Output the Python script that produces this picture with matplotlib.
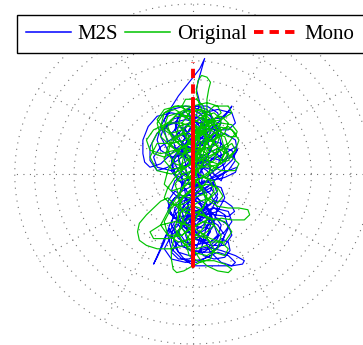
import numpy as np
import matplotlib.pyplot as plt

plt.rcParams['font.family'] = ['Liberation Serif', 'DejaVu Serif']

# side (x) / mid (y) amplitudes, percent of full scale
m2s_x = [2, 6, 12, 16, 14, 8, 0, -6, -10, -8, -2, 6, 12, 18, 21, 22, 20, 16, 8, -2,
         -12, -20, -25, -28, -28, -27, -24, -18, -12, -6, -2, 2, 4, 2, 4, 6.7, 4, -2, -8, -14,
         -18, -20, -18, -12, -4, 4, 10, 14, 10, 4, -2, -6, -4, 2, 10, 18, 24, 25, 22, 16,
         8, 0, -8, -14, -16, -12, -4, 4, 10, 14, 16, 14, 8,
         2, -4, -10, -12, -8, 0, 8, 14, 20, 25, 24, 18, 10, 2, -6, -12, -14, -10, -2, 6,
         12, 18, 22, 23.5, 20, 12, 4, -4, -8, -6, 0, 6, 10, 8, 2, -4, -8, -6, 0, 6,
         8, 4, -2, -8, -10, -6, 2, 8,
         10, 8, 2, -4, -8, -12, -12, -8, -2, 6, 12, 16, 20, 21, 18, 12, 6, 4, 8, 16,
         24, 29, 28, 22, 14, 6, 1, -4, -8, -10, -13, -16, -19, -22, -20, -16, -13, -10, -6, -2,
         2, 4, 2, -2, -4, -2, 4, 10, 14, 12, 6, 0, -4, -6, -4, 0, 6, 10, 12, 14,
         10, 4, 0,
         -2, -4, -6, -10, -14, -18, -16, -10, -4, 0, 2, 6, 12, 18, 20, 16, 10, 4, 0, -2,
         2, 8, 12, 10, 4, -2, -8, -12, -10, -4, 2, 6, 4, -2, -6, -2, 4, 8, 6, 0,
         -4, -2, 4, 10, 12, 8, 2,
         4, 10, 14, 12, 6, 0, -4, -2, 4, 10, 16, 18, 14, 8, 2, -4, -10, -14, -12, -6,
         0, 6, 10, 8, 2, -4, -8, -6, 0, 8, 14, 18, 16, 10, 4, -2, -8, -12, -10, -4,
         2, 6, 4, -2, -8, -12, -8, 0, 8, 12, 10, 4, -2, -6, -10, -12, -8, -2, 4, 8,
         12, 16, 18, 16, 10, 4, -2, -8, -12, -10, -4, 2, 8, 12, 14, 10, 4, -2, -6, -4,
         2, 8, 14, 16, 12, 6, 0, -6, -12, -16, -14, -8, 0, 6, 8, 4, -2, -8, -10, -6,
         0, 6, 4, -2, -8, -12, -10, -4, 2, 6, 4, 0, -6, -8, -4, 2, 6, 4, 0,
         0, 8, 16, 22, 25, 24, 18, 10, 2, -6, -14, -20, -24, -24, -20, -12, -4, 4, 12, 20,
         24, 22, 14, 6, -2, -10, -18, -22, -20, -12, -2, 8, 16, 22, 24, 20, 12, 4, -4, -10,
         -12, -8, 0, 10, 18, 22, 20, 12, 4, -4, -12, -16, -12, -4, 6, 14, 20, 24, 22, 16,
         10, 6, 8, 14, 20, 22, 18, 10, 2,
         -4, -10, -14, -10, -2, 6, 12, 16, 14, 8, 0, -6, -8, -4, 4, 12, 18, 20, 16, 10,
         2, -6, -12, -14, -10, -2, 6, 10, 6, 0, -4, -2, 4, 10, 14, 10, 4]
m2s_y = [10, 16, 22, 30, 36, 40, 40, 36, 30, 24, 20, 22, 28, 34, 38, 40, 37, 33, 32, 34,
         36, 34, 28, 20, 12, 7, 4, 6, 12, 18, 26, 34, 42, 50, 58, 68, 62, 54, 46, 36,
         28, 20, 14, 10, 12, 16, 22, 28, 32, 30, 26, 18, 10, 6, 8, 12, 16, 14, 10, 8,
         10, 14, 20, 26, 32, 38, 40, 38, 34, 26, 18, 12, 6,
         2, 0, -4, -10, -14, -12, -8, -2, 2, 4, 1, -2, -4, -6, -10, -16, -22, -26, -24, -20,
         -16, -16, -19, -22, -25, -24, -22, -20, -14, -6, 0, 6, 14, 20, 22, 18, 10, 2, -4, -10,
         -18, -26, -30, -28, -22, -16, -14, -18,
         -26, -32, -36, -34, -30, -34, -40, -46, -48, -46, -42, -38, -40, -45, -49, -50, -48, -44, -43, -45,
         -48, -51, -53, -54, -54, -54, -54, -51, -46, -40, -32, -38, -46, -53, -49, -40, -30, -24, -20, -24,
         -30, -38, -44, -42, -36, -28, -22, -18, -12, -6, -4, -8, -14, -22, -30, -34, -30, -24, -30, -36,
         -40, -38, -32,
         -22, -12, -2, 6, 14, 22, 28, 30, 26, 18, 10, 4, 2, 6, 12, 18, 20, 24, 30, 36,
         40, 38, 32, 24, 18, 14, 12, 6, 0, -4, -2, 4, 12, 18, 24, 30, 32, 26, 18, 12,
         4, -6, -12, -10, -4, 2, 6,
         -6, -12, -20, -28, -32, -30, -24, -16, -10, -6, -8, -14, -22, -24, -20, -14, -10, -16, -24, -28,
         -26, -22, -30, -38, -42, -40, -34, -28, -24, -26, -30, -36, -42, -46, -46, -44, -42, -36, -30, -28,
         -34, -40, -46, -50, -50, -46, -40, -38, -36, -30, -22, -18, -12, -6, 0, 8, 14, 16, 12, 6,
         0, -4, 2, 10, 14, 18, 24, 28, 24, 16, 10, 6, 10, 18, 26, 30, 28, 22, 14, 6,
         0, -2, 4, 12, 20, 26, 32, 34, 32, 26, 18, 14, 16, 22, 30, 36, 38, 34, 26, 18,
         12, 6, -2, -6, -4, 2, 10, 12, 8, 0, -8, -14, -20, -26, -32, -30, -24, -16, -10,
         -10, -4, 2, 8, 14, 20, 24, 22, 16, 10, 4, 2, 8, 16, 24, 30, 32, 30, 26, 26,
         30, 36, 38, 36, 30, 22, 16, 10, 4, 2, 6, 12, 16, 14, 8, 2, -2, -6, -12, -20,
         -30, -38, -42, -40, -34, -28, -22, -20, -24, -30, -36, -44, -50, -52, -50, -46, -48, -52, -54, -52,
         -46, -38, -30, -26, -30, -36, -42, -42, -38,
         -32, -26, -20, -14, -14, -18, -24, -30, -38, -44, -46, -42, -34, -26, -22, -20, -24, -32, -40, -48,
         -52, -50, -44, -36, -28, -24, -28, -34, -40, -38, -30, -20, -12, -8, -14, -22, -28]

orig_x = [0, 6, 12, 16, 14, 8, 0, -8, -14, -20, -23, -22, -16, -8, 0, 6, 8, 8, 9, 10,
          8, 5, 3, 2, 4, 8, 14, 20, 24, 25, 22, 16, 8, 0, -8, -14, -16, -12, -4, 4,
          12, 18, 20, 16, 8, 0, -8, -14, -18, -16, -10, -2, 6, 12, 14, 10, 2, -6, -12, -14,
          -10, -2, 4, 8, 6, 0, -6, -10, -8, -2, 4, 10, 16, 22, 24, 20, 14, 8, 2, -4,
          -8, -6, 0, 6, 10,
          8, 2, -4, -10, -14, -16, -12, -6, 0, 6, 9.5, 14, 20, 26, 31, 32, 29, 22, 16, 12,
          6, 0, -8, -14, -18, -22, -26, -30, -31, -30, -26, -20, -12, -4, 2, 8, 12, 10, 4, -2,
          -6, -10, -12, -12, -11, -9, -5, 0, 6, 12, 18, 22, 20, 14, 8, 4, 0, -2, -6, -8,
          -8, -4, 2, 8, 14, 17, 14, 8, 4, 2, -2, -6,
          -10, -14, -16, -12, -6, 0, 6, 12, 14, 10, 4, -2, -6, -8, -4, 2, 8, 12, 18, 20,
          16, 10, 4, -2, -10, -18, -24, -22, -14, -6, 0, 4, 8, 12, 10, 4, 0, -4, -2, 4,
          8, 6,
          -2, 2, 6, 10, 14, 16, 12, 6, 0, -6, -12, -16, -14, -8, -2, 2, 4, 2, -4, -10,
          -14, -12, -6, 0, 6, 12, 18, 20, 16, 10, 6, 8, 12, 16, 18, 16, 10, 2, -4, -10,
          -16, -20, -18, -12, -6, 0, 4, 2, -2, -6, -4, 2, 6, 8, 6, 0, -6, -10, -8, -2,
          4, 10, 14, 12, 6, 0, -6, -10, -8, -2, 4, 8, 10, 8, 2, -4, -8, -6, 0, 6,
          12, 16, 20, 18, 12, 6, 2, 0, -4, -8, -6, 0, 6, 8, 4, -2, -6, -4, 2, 8,
          12, 10, 4, -2, -6, -4, 2, 8, 14, 16, 12, 6, 2,
          0, -6, -12, -16, -14, -8, 0, 6, 8, 4, -2, -8, -10, -6, 0, 8, 14, 16, 12, 6,
          0, -4, -2, 4, 10, 12, 8, 2, -4, -8, -6, 0,
          2, 10, 18, 24, 26, 22, 14, 6, -2, -10, -18, -24, -26, -22, -14, -6, 2, 10, 16, 22,
          26, 24, 16, 8, 0, -8, -16, -20, -16, -8, 0, 8, 16, 22, 20, 12, 6, 4, -4, -12,
          -20, -24, -20, -12, -4, 4, 12, 20, 24, 20, 12, 6, 2, -2, -8, -14, -18, -14, -6, 2,
          10, 18, 22, 18, 10, 4]
orig_y = [20, 26, 32, 36, 40, 42, 40, 36, 30, 24, 18, 12, 10, 14, 20, 28, 36, 44, 50, 54,
          57, 58, 55, 48, 40, 32, 26, 22, 22, 25, 29, 30, 28, 26, 22, 16, 8, 3, 4, 8,
          12, 16, 12, 6, 4, 6, 12, 20, 28, 36, 40, 40, 36, 30, 22, 16, 14, 16, 22, 28,
          34, 34, 30, 24, 16, 10, 6, 0, -4, -2, 4, 10, 14, 18, 14, 8, 6, 8, 14, 22,
          30, 36, 38, 34, 26,
          18, 10, 4, -2, -8, -14, -18, -18, -14, -12, -16, -19, -20, -20, -21, -24, -27, -27, -26, -27,
          -24, -22, -20, -14, -16, -20, -24, -29, -34, -39, -42, -44, -44, -42, -38, -34, -30, -26, -24, -26,
          -30, -36, -44, -50, -56, -58, -57, -54, -51, -51, -53, -56, -58, -57, -54, -50, -44, -38, -32, -26,
          -18, -12, -8, -6, -8, -13, -17, -14, -8, 0, 8, 16,
          10, 2, -6, -10, -8, -4, -2, -4, -10, -14, -16, -20, -28, -36, -42, -44, -42, -46, -48, -44,
          -40, -38, -34, -30, -28, -30, -34, -38, -38, -36, -30, -22, -16, -10, -4, 0, 6, 14, 22, 26,
          20, 12,
          -8, 0, 8, 16, 24, 32, 36, 34, 30, 26, 24, 28, 34, 36, 32, 24, 16, 8, 4, 6,
          12, 20, 24, 22, 18, 20, 24, 30, 34, 32, 26, 18, 12, 8, 14, 22, 26, 28, 34, 38,
          36, 30, 22, 16, 12, 14, 20, 28, 34, 40, 44, 44, 40, 32, 24, 18, 16, 20, 28, 30,
          26, 22, 16, 8, 4, 2, 0, -6, -12, -14, -10, -4, 4, 12, 16, 14, 8, 0, -4, -2,
          2, 8, 16, 22, 24, 20, 12, 4, -4, -14, -22, -24, -20, -12, -6, -2, 6, 16, 22, 26,
          30, 36, 38, 36, 30, 22, 16, 14, 18, 26, 32, 30, 24,
          -8, -14, -20, -28, -36, -40, -38, -32, -26, -20, -18, -24, -32, -40, -46, -48, -44, -36, -30, -28,
          -32, -40, -48, -52, -50, -44, -38, -36, -30, -22, -14, -10,
          -4, 2, 8, 14, 20, 26, 28, 24, 18, 14, 12, 14, 20, 26, 30, 30, 26, 20, 14, 10,
          6, 2, 2, 6, 12, 20, 26, 32, 38, 40, 36, 30, 32, 36, 40, 40, 34, 26, 20, 18,
          18, 10, 2, 0, 4, 10, 14, 18, 24, 28, 24, 16, 6, -4, -12, -22, -30, -36, -36, -30,
          -26, -28, -34, -40, -40, -34]

mono_x = [0, 0, 0, 0, 0, 0, 0, 0, 0, 0, 0]
mono_y = [10, -45, 40, -20, 30, -54, 44, -40, 46, -50, 66]

ring_levels = np.arange(1, 10) * 100 / 9
spoke_angles = np.arange(0, 360, 30)

fig = plt.figure(figsize=(3.63, 3.45), dpi=100)
ax = fig.add_axes([0, 0, 1, 1])

grid_kw = dict(color='0.45', lw=0.8, linestyle=(0, (1, 4.85)), zorder=0)
t = np.linspace(0, 2 * np.pi, 400)
for r in ring_levels:
    ax.plot(r * np.cos(t), r * np.sin(t), **grid_kw)
for a in np.deg2rad(spoke_angles):
    ax.plot([0, 100 * np.cos(a)], [0, 100 * np.sin(a)], **grid_kw)

h1, = ax.plot(m2s_x, m2s_y, color='#0000ff', lw=0.85, solid_joinstyle='round', label='M2S')
h2, = ax.plot(orig_x, orig_y, color='#00c400', lw=0.85, solid_joinstyle='round', label='Original')
h3, = ax.plot(mono_x, mono_y, color='#ff0000', lw=2.8, linestyle=(0, (2.4, 1.6)), label='Mono')

ax.set_xlim(-108.3, 95.7)
ax.set_ylim(-100.6, 102.4)
ax.axis('off')

leg = ax.legend(handles=[h1, h2, h3], loc='upper left',
                bbox_to_anchor=(17 / 363, 1 - 15 / 345), bbox_transform=fig.transFigure,
                ncol=3, fontsize=15, frameon=True, fancybox=False, framealpha=1,
                edgecolor='black', handlelength=2.16, handletextpad=0.3,
                columnspacing=0.35, borderaxespad=0, borderpad=0.45)
leg.get_frame().set_linewidth(1.0)
for line in leg.get_lines()[:2]:
    line.set_linewidth(1.1)

fig.savefig('out.png', dpi=100)
